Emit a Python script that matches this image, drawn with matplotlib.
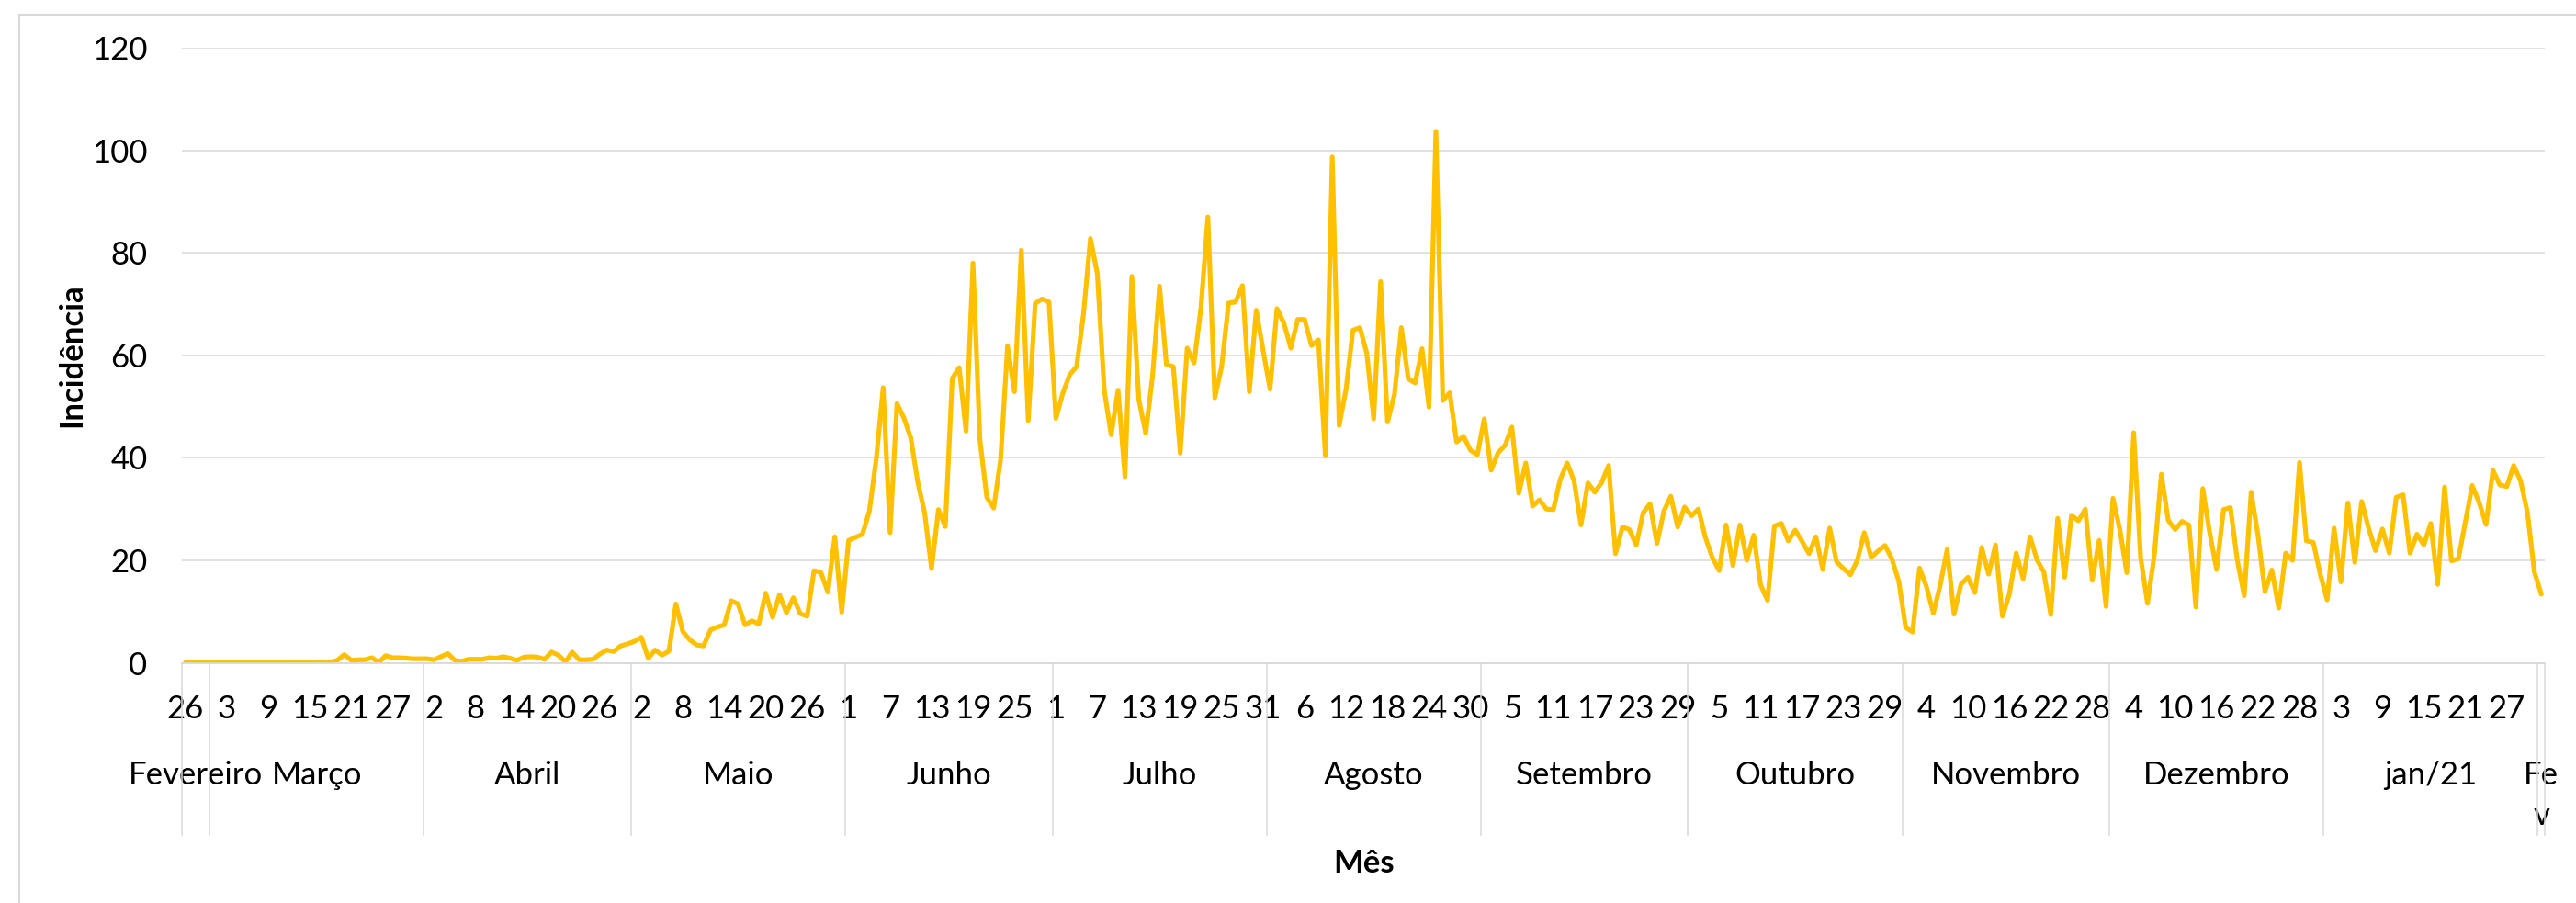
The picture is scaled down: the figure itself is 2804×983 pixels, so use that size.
import matplotlib
matplotlib.use("Agg")
import matplotlib.pyplot as plt
import matplotlib.transforms as mtransforms
from matplotlib.lines import Line2D
import pandas as pd
import numpy as np

plt.rcParams['font.family'] = ['Lato', 'DejaVu Sans']

# ---------------- data ----------------
start_date = "2020-02-26"
end_date = "2021-02-01"

incidencia = [
    0, 0, 0, 0, 0, 0, 0, 0, 0, 0, 0, 0, 0, 0, 0, 0,
    0.1, 0.1, 0.1, 0.2, 0.2, 0.1, 0.5,
    1.6, 0.5, 0.6, 0.6, 1.0, 0.1, 1.4, 1.0, 1.0, 0.9, 0.8, 0.8,
    0.8, 0.6, 1.2, 1.8, 0.5, 0.3, 0.7, 0.7, 0.7, 1.0, 0.9, 1.2,
    0.9, 0.5, 1.1, 1.2, 1.1, 0.7, 2.1, 1.5, 0.2, 2.1, 0.6, 0.6,
    0.7, 1.7, 2.5, 2.2, 3.3, 3.7, 4.2, 5.0,
    0.9, 2.5, 1.5, 2.3, 11.5, 6.1, 4.5, 3.5, 3.3, 6.4, 7.0, 7.4,
    12.1, 11.5, 7.4, 8.2, 7.6, 13.6, 8.9, 13.3, 9.8, 12.7, 9.6, 9.1,
    18.0, 17.6, 13.8, 24.6, 9.9, 23.9, 24.5, 25.1, 29.6, 39.8, 53.7, 25.4,
    50.6, 47.8, 43.9, 35.3, 29.3, 18.4, 29.9, 26.6, 55.5, 57.6, 45.2, 78.0,
    43.6, 32.3, 30.2, 39.7, 61.8, 52.9, 80.5, 47.3, 70.1, 71.0, 70.4, 47.7,
    52.6, 56.2, 57.8, 68.1, 82.8, 75.9, 53.2, 44.5, 53.2, 36.3, 75.4, 51.4,
    44.8, 56.1, 73.5, 58.2, 57.8, 40.9, 61.4, 58.5, 69.3, 87.0, 51.7, 57.9,
    70.2, 70.4, 73.6, 52.9, 68.8, 60.9, 53.4, 69.1, 66.3, 61.4, 67.0, 67.0,
    61.9, 63.0, 40.4, 98.7, 46.3, 53.4, 64.9, 65.4, 60.4, 47.6, 74.4, 47.0,
    52.3, 65.4, 55.4, 54.6, 61.3, 49.9, 103.7, 51.2, 52.7, 43.1, 44.2, 41.5,
    40.6, 47.6, 37.6, 41.0, 42.4, 46.0, 33.1, 39.0, 30.6, 31.8, 30.0, 29.9,
    35.8, 39.0, 35.5, 26.9, 35.1, 33.3, 35.2, 38.5, 21.3, 26.5, 26.0, 23.0,
    29.3, 31.0, 23.3, 29.6, 32.5, 26.5, 30.4, 28.7, 30.0, 24.5, 20.6, 18.0,
    26.9, 19.0, 26.9, 20.0, 24.9, 15.2, 12.2, 26.7, 27.2, 23.8, 25.9, 23.7,
    21.3, 24.6, 18.2, 26.3, 19.7, 18.4, 17.2, 20.0, 25.4, 20.6, 21.8, 22.9,
    20.3, 15.9, 6.9, 6.0, 18.5, 14.9, 9.7, 15.2, 22.1, 9.5, 15.3, 16.7,
    13.7, 22.5, 17.3, 23.0, 9.1, 13.4, 21.4, 16.4, 24.6, 20.1, 17.7, 9.4,
    28.2, 16.7, 28.8, 27.7, 30.0, 16.1, 23.9, 11.0, 32.1, 26.0, 17.6, 44.9,
    20.6, 11.6, 21.2, 36.8, 27.8, 26.0, 27.6, 26.9, 10.9, 34.0, 25.4, 18.2,
    29.9, 30.3, 20.0, 13.1, 33.3, 24.8, 13.9, 18.1, 10.7, 21.4, 20.0, 39.1,
    23.8, 23.5, 17.3, 12.3, 26.3, 15.8, 31.2, 19.6, 31.5, 26.3, 21.9, 26.1,
    21.4, 32.3, 32.8, 21.4, 25.1, 23.0, 27.2, 15.3, 34.3, 19.9, 20.3, 27.5,
    34.6, 31.3, 27.0, 37.6, 34.7, 34.4, 38.5, 35.5, 29.3, 17.7, 13.4,
]

month_names = ["Fevereiro", "Março", "Abril", "Maio", "Junho", "Julho",
               "Agosto", "Setembro", "Outubro", "Novembro", "Dezembro",
               "jan/21", "Fev"]

y_ticks = [0, 20, 40, 60, 80, 100, 120]
y_label = "Incidência"
x_label = "Mês"
label_step = 6

# ---------------- layout ----------------
W, H = 2804, 983
fig = plt.figure(figsize=(W / 100, H / 100), dpi=100)
fig.patch.set_facecolor("white")

ax_left, ax_right = 198, 2770
ax_y0, ax_ytop = 721.6, 52
ax = fig.add_axes([ax_left / W, 1 - ax_y0 / H,
                   (ax_right - ax_left) / W, (ax_y0 - ax_ytop) / H])

dates = pd.date_range(start_date, end_date, freq="D")
n = len(dates)
assert len(incidencia) == n, (len(incidencia), n)
xs = np.arange(n) + 0.5

ax.plot(xs, incidencia, color="#FFC000", lw=3.7,
        solid_joinstyle="round", solid_capstyle="round", zorder=3)

ax.set_xlim(0, n)
ax.set_ylim(0, 120)
ax.set_yticks(y_ticks)
ax.set_yticklabels([str(t) for t in y_ticks])
ax.yaxis.grid(True, color="#D9D9D9", lw=1.1)
ax.set_axisbelow(True)
ax.tick_params(axis="y", length=0, pad=27, labelsize=25, labelcolor="black")
ax.set_xticks([])
for s in ax.spines.values():
    s.set_visible(False)

blend = mtransforms.blended_transform_factory(ax.transData, fig.transFigure)

def fy(px):
    return 1 - px / H

fs = 25

# day labels
for i in range(0, n, label_step):
    ax.text(i + 0.5, fy(782), str(dates[i].day), transform=blend,
            ha="center", va="baseline", fontsize=fs, color="black")

# month separators and labels
month_starts = [0] + [i for i in range(1, n) if dates[i].month != dates[i - 1].month]
bounds = month_starts + [n]
sep_col = "#D9D9D9"
for b in bounds:
    fig.add_artist(Line2D([b, b], [fy(ax_y0), fy(909)], transform=blend,
                          color=sep_col, lw=1.1, clip_on=False))
# axis baseline
fig.add_artist(Line2D([0, n], [fy(ax_y0), fy(ax_y0)], transform=blend,
                      color="#D9D9D9", lw=1.3, clip_on=False))

for k, name in enumerate(month_names):
    a, b = bounds[k], bounds[k + 1]
    xc = (a + b) / 2
    if b - a < 3:
        ax.text(xc, fy(854), name[:2], transform=blend, ha="center",
                va="baseline", fontsize=fs, color="black")
        ax.text(xc, fy(898), name[2:], transform=blend, ha="center",
                va="baseline", fontsize=fs, color="black")
    else:
        ax.text(xc, fy(854), name, transform=blend, ha="center",
                va="baseline", fontsize=fs, color="black")

# axis titles
fig.text(78 / W, fy(387), y_label, rotation=90, ha="center", va="center",
         fontsize=fs, fontweight="bold", color="black")
fig.text(1485 / W, fy(950), x_label, ha="center", va="baseline",
         fontsize=fs, fontweight="bold", color="black")

# chart area border (left and top visible)
fig.add_artist(Line2D([20.5 / W, 20.5 / W], [0, fy(15.5)], transform=fig.transFigure,
                      color="#D9D9D9", lw=1.5))
fig.add_artist(Line2D([20.5 / W, 1], [fy(15.5), fy(15.5)], transform=fig.transFigure,
                      color="#D9D9D9", lw=1.5))

fig.savefig("out.png", dpi=100, facecolor="white")
